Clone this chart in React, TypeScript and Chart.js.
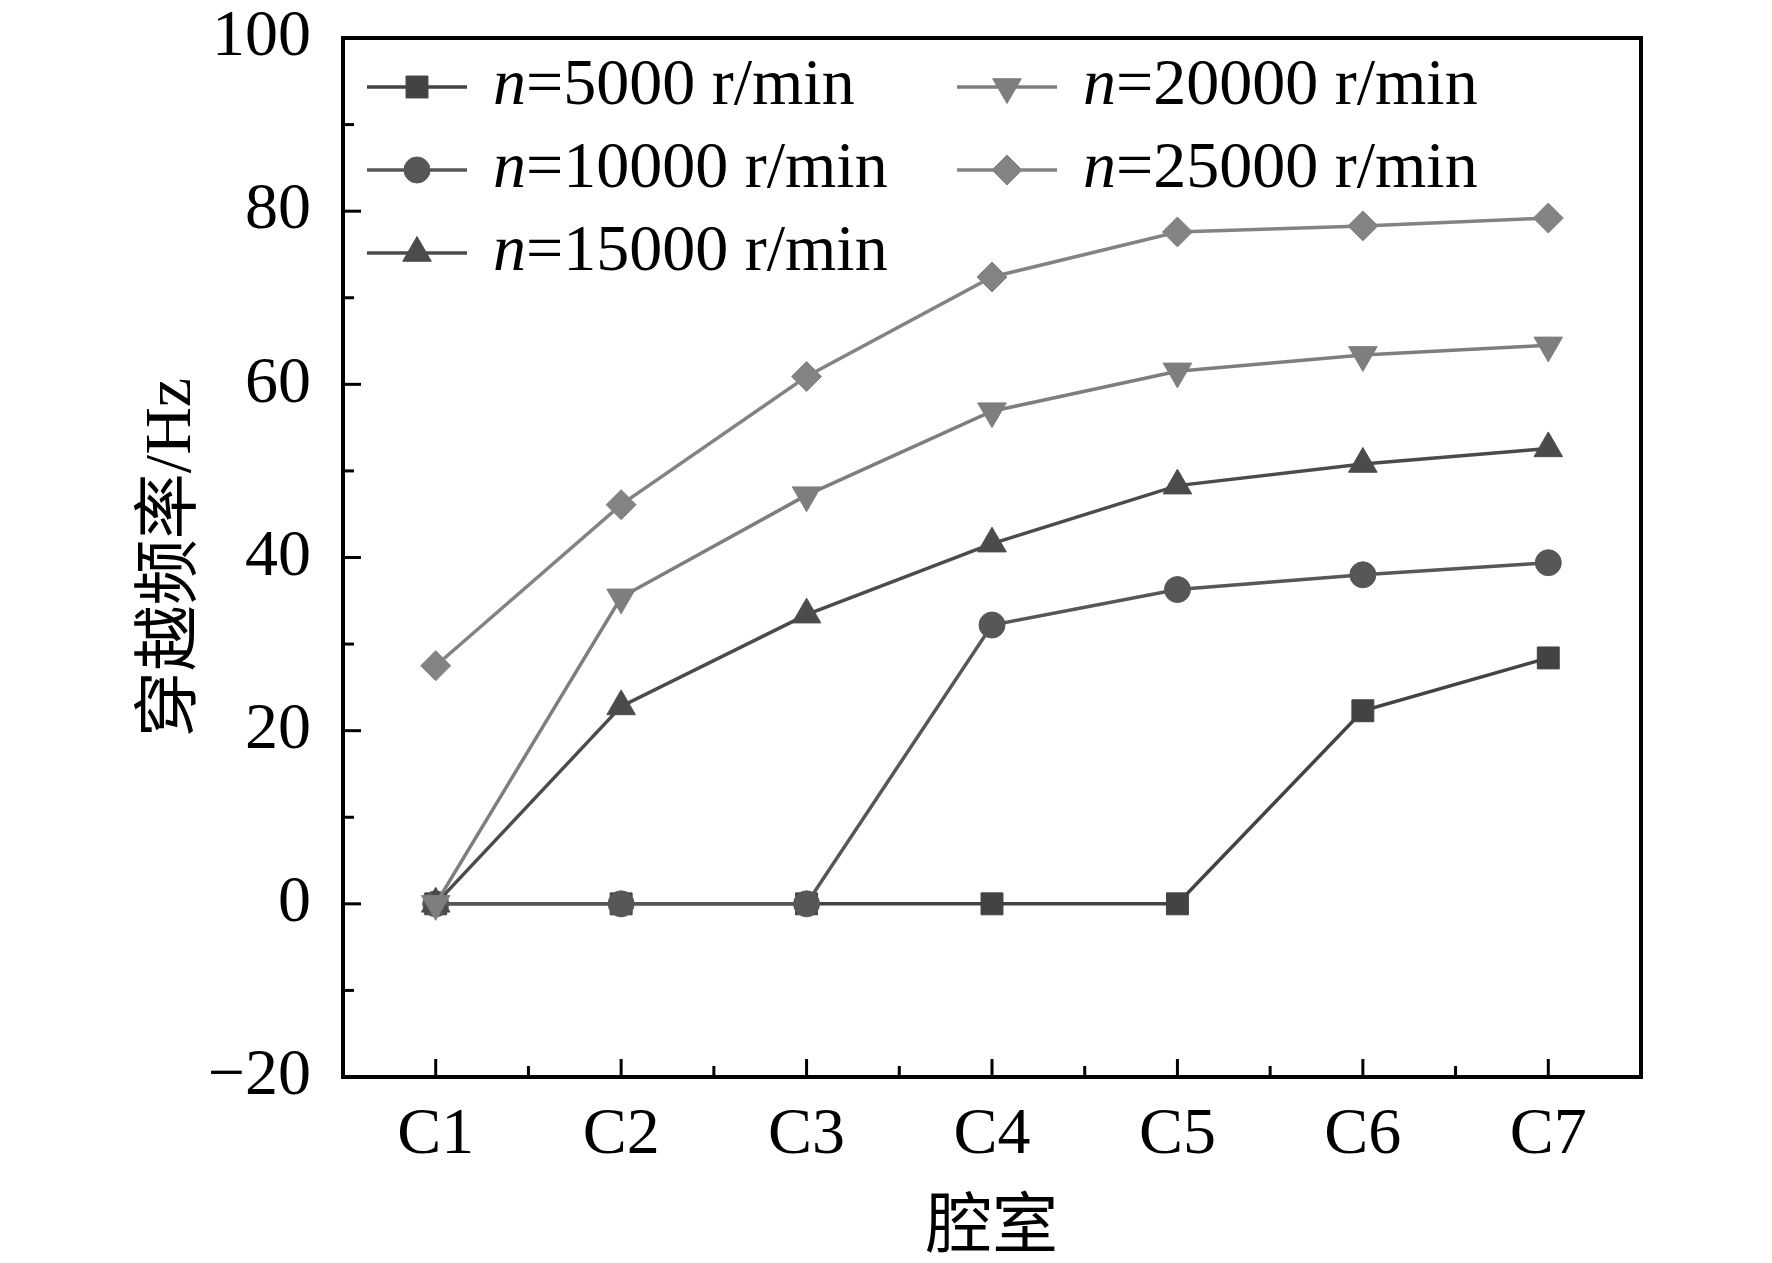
import { useEffect, useRef } from "react";
import { Chart, registerables } from "chart.js";
import { drawPoint } from "chart.js/helpers";

Chart.register(...registerables);

// cavities along the x axis
const cavities = ["C1", "C2", "C3", "C4", "C5", "C6", "C7"];
// rotating speed of each series (r/min)
const speeds = ["5000", "10000", "15000", "20000", "25000"];
// crossing frequency, Hz
const freq5000 = [0, 0, 0, 0, 0, 22.3, 28.4];
const freq10000 = [0, 0, 0, 32.2, 36.3, 38.0, 39.4];
const freq15000 = [0, 22.8, 33.4, 41.6, 48.3, 50.8, 52.6];
const freq20000 = [0, 35.4, 47.2, 56.9, 61.5, 63.4, 64.5];
const freq25000 = [27.5, 46.1, 60.9, 72.4, 77.6, 78.3, 79.2];
const yMin = -20;
const yMax = 100;
const yStep = 20;

const seriesValues = [freq5000, freq10000, freq15000, freq20000, freq25000];
const colors = ["#434343", "#575757", "#4b4b4b", "#7e7e7e", "#838383"];
const markers = ["rect", "circle", "triangle", "triangle", "rectRot"];
const rotations = [0, 0, 0, 180, 0];
const radii = [15.5, 13, 16.5, 16.5, 15];

const serif = "'Liberation Serif', 'Times New Roman', serif";
const serifCjk = "'Liberation Serif', 'Noto Sans CJK SC', serif";
const FONT_SIZE = 66;

const frameTicks = {
  id: "frameTicks",
  beforeDatasetsDraw(chart: any) {
    const { ctx, chartArea, scales } = chart;
    const { left, right, top, bottom } = chartArea;
    const x = scales.x;
    const y = scales.y;
    const seg = (x1: number, y1: number, x2: number, y2: number) => {
      ctx.beginPath();
      ctx.moveTo(x1, y1);
      ctx.lineTo(x2, y2);
      ctx.stroke();
    };
    ctx.save();
    ctx.strokeStyle = "#000";
    ctx.lineWidth = 3;
    y.ticks.forEach((t: any, i: number) => {
      const py = y.getPixelForValue(t.value);
      seg(left, py, left + 18, py);
      const next = y.ticks[i + 1];
      if (next) {
        const pm = y.getPixelForValue((t.value + next.value) / 2);
        seg(left, pm, left + 11, pm);
      }
    });
    cavities.forEach((_, i) => {
      const px = x.getPixelForValue(i);
      seg(px, bottom, px, bottom - 18);
      if (i < cavities.length - 1) {
        const pm = (px + x.getPixelForValue(i + 1)) / 2;
        seg(pm, bottom, pm, bottom - 11);
      }
    });
    ctx.lineWidth = 4;
    ctx.strokeRect(left, top, right - left, bottom - top);
    ctx.restore();
  },
};

const inlineLegend = {
  id: "inlineLegend",
  afterDraw(chart: any) {
    const { ctx, chartArea } = chart;
    const { left, top } = chartArea;
    const colX = [left + 24, left + 614];
    const rowY = [top + 49, top + 132, top + 215];
    chart.data.datasets.forEach((ds: any, i: number) => {
      const col = i < 3 ? 0 : 1;
      const row = i < 3 ? i : i - 3;
      const x0 = colX[col];
      const yy = rowY[row];
      ctx.save();
      ctx.strokeStyle = ds.borderColor;
      ctx.fillStyle = ds.pointBackgroundColor;
      ctx.lineWidth = 3.5;
      ctx.beginPath();
      ctx.moveTo(x0, yy);
      ctx.lineTo(x0 + 100, yy);
      ctx.stroke();
      ctx.lineWidth = 1;
      drawPoint(
        ctx,
        { pointStyle: ds.pointStyle, rotation: ds.pointRotation, radius: ds.pointRadius, borderWidth: 1 } as any,
        x0 + 50,
        yy
      );
      ctx.fillStyle = "#000";
      ctx.textBaseline = "middle";
      ctx.textAlign = "left";
      let tx = x0 + 126;
      ctx.font = `italic ${FONT_SIZE}px ${serif}`;
      ctx.fillText("n", tx, yy);
      tx += ctx.measureText("n").width;
      ctx.font = `${FONT_SIZE}px ${serif}`;
      ctx.fillText(`=${speeds[i]} r/min`, tx, yy);
      ctx.restore();
    });
  },
};

export default function App() {
  const canvasRef = useRef<HTMLCanvasElement>(null);
  const chartRef = useRef<Chart | null>(null);

  useEffect(() => {
    if (!canvasRef.current) return;
    chartRef.current?.destroy();

    chartRef.current = new Chart(canvasRef.current, {
      type: "line",
      data: {
        labels: cavities,
        datasets: seriesValues.map((vals, i) => ({
          label: `n=${speeds[i]} r/min`,
          data: vals,
          borderColor: colors[i],
          backgroundColor: colors[i],
          borderWidth: 3.5,
          pointStyle: markers[i] as any,
          pointRotation: rotations[i],
          pointRadius: radii[i],
          pointBackgroundColor: colors[i],
          pointBorderColor: colors[i],
          pointBorderWidth: 1,
          tension: 0,
          order: seriesValues.length - i,
          clip: false as any,
        })),
      },
      options: {
        responsive: false,
        devicePixelRatio: 1,
        animation: false,
        layout: { padding: { top: 38, right: 131, bottom: 0, left: 0 } },
        plugins: {
          legend: { display: false },
          tooltip: { enabled: false },
        },
        scales: {
          x: {
            type: "category",
            offset: true,
            grid: { display: false },
            border: { display: false },
            ticks: {
              padding: 11,
              color: "#000",
              autoSkip: false,
              maxRotation: 0,
              font: { family: serif, size: FONT_SIZE },
            },
            title: {
              display: true,
              text: "腔室",
              color: "#000",
              font: { family: serifCjk, size: FONT_SIZE },
              padding: { top: 0, bottom: -6 },
            },
            afterFit: (s: any) => {
              s.height = 186;
              s.paddingLeft = 0;
              s.paddingRight = 0;
            },
          },
          y: {
            min: yMin,
            max: yMax,
            grid: { display: false },
            border: { display: false },
            ticks: {
              stepSize: yStep,
              padding: 24,
              color: "#000",
              font: { family: serif, size: FONT_SIZE },
              callback: (v: any) => (Number(v) < 0 ? `\u2212${Math.abs(Number(v))}` : `${v}`),
            },
            title: {
              display: true,
              text: "穿越频率/Hz",
              color: "#000",
              font: { family: serifCjk, size: FONT_SIZE },
              padding: { top: 133, bottom: 0 },
            },
            afterFit: (s: any) => {
              s.width = 343;
              s.paddingTop = 0;
              s.paddingBottom = 0;
            },
          },
        },
      },
      plugins: [frameTicks, inlineLegend],
    });

    return () => {
      chartRef.current?.destroy();
      chartRef.current = null;
    };
  }, []);

  return (
    <div style={{ position: "absolute", left: 0, top: 0, width: 1772, height: 1263, background: "#fff" }}>
      <canvas ref={canvasRef} width={1772} height={1263} style={{ display: "block", width: 1772, height: 1263 }} />
    </div>
  );
}
